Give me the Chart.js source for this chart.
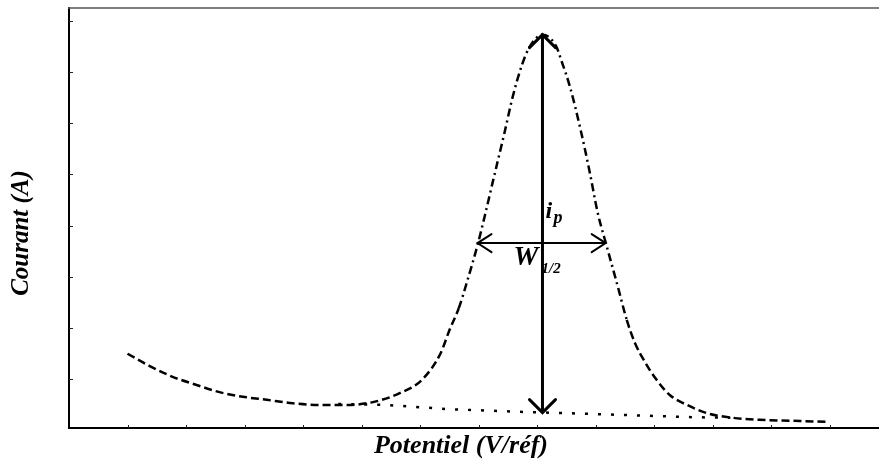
<!DOCTYPE html>
<html>
<head>
<meta charset="utf-8">
<script src="https://cdn.jsdelivr.net/npm/chart.js@4.4.0/dist/chart.umd.min.js"></script>
<style>
  html, body { margin: 0; padding: 0; background: #fff; }
  #wrap { width: 879px; height: 459px; position: relative; }
</style>
</head>
<body>
<div id="wrap"><canvas id="voltammo"></canvas></div>
<script>
// axis ticks (arbitrary units, no labels)
const xTicks = [1, 2, 3, 4, 5, 6, 7, 8, 9, 10, 11, 12, 13];
const yTicks = [1, 2, 3, 4, 5, 6, 7, 8];

// measured voltammogram
const potentiel = [1.00, 1.38, 1.77, 2.18, 2.57, 2.97, 3.38, 3.77, 4.28, 4.76, 5.21, 5.65, 6.03,
  6.35, 6.50, 6.66, 6.81, 6.98, 7.10, 7.24, 7.44, 7.58, 7.74, 7.87, 8.09, 8.32, 8.42, 8.56,
  8.73, 8.90, 9.03, 9.19, 9.38, 9.53, 9.67, 9.84, 10.04, 10.27, 10.56, 10.90, 11.34, 11.80,
  12.37, 12.95];
const courant = [1.50, 1.26, 1.05, 0.89, 0.75, 0.66, 0.60, 0.54, 0.50, 0.50, 0.56, 0.73, 0.99,
  1.51, 1.96, 2.39, 2.94, 3.62, 4.17, 4.85, 5.81, 6.51, 7.14, 7.49, 7.73, 7.51, 7.20, 6.71,
  5.93, 5.03, 4.27, 3.59, 2.80, 2.16, 1.71, 1.34, 0.99, 0.69, 0.50, 0.34, 0.25, 0.21,
  0.19, 0.17];

// capacitive baseline under the peak
const baseX = [4.60, 5.43, 6.45, 7.82, 8.50, 10.66, 11.30];
const baseY = [0.52, 0.50, 0.42, 0.36, 0.34, 0.26, 0.25];

// peak current and half-height width
const peakX = 8.09, peakY = 7.73, peakBase = 0.35;
const halfY = 3.66, halfLeft = 6.98, halfRight = 9.17;

// part of the curve drawn dash-dot
const peakFrom = 6.65, peakTo = 9.6;

const pts = (xs, ys) => xs.map((x, i) => ({ x: x, y: ys[i] }));
const serif = '"Liberation Serif", "Times New Roman", serif';

const annot = {
  id: 'annot',
  afterDatasetsDraw(chart) {
    const { ctx, chartArea: ca, scales: { x, y } } = chart;
    ctx.save();

    // top frame line
    ctx.strokeStyle = '#555';
    ctx.lineWidth = 1.5;
    ctx.beginPath();
    ctx.moveTo(ca.left - 1, ca.top);
    ctx.lineTo(ca.right, ca.top);
    ctx.stroke();

    // inner tick marks
    ctx.strokeStyle = '#222';
    ctx.lineWidth = 1;
    ctx.beginPath();
    yTicks.forEach(v => {
      const py = Math.round(y.getPixelForValue(v)) + 0.5;
      ctx.moveTo(ca.left, py);
      ctx.lineTo(ca.left + 4, py);
    });
    xTicks.forEach(v => {
      const px = Math.round(x.getPixelForValue(v)) + 0.5;
      ctx.moveTo(px, ca.bottom);
      ctx.lineTo(px, ca.bottom - 3);
    });
    ctx.stroke();

    // open arrow heads
    ctx.strokeStyle = '#000';
    ctx.lineWidth = 3;
    ctx.lineCap = 'round';
    const head = (tx, ty, ax, ay, bx, by) => {
      ctx.beginPath();
      ctx.moveTo(tx + ax, ty + ay);
      ctx.lineTo(tx, ty);
      ctx.lineTo(tx + bx, ty + by);
      ctx.stroke();
    };
    const vx = x.getPixelForValue(peakX);
    const vTop = y.getPixelForValue(peakY);
    const vBot = y.getPixelForValue(peakBase);
    head(vx, vTop, -13, 13, 13, 13);
    head(vx, vBot, -13, -13, 13, -13);
    ctx.lineWidth = 2;
    const hy = y.getPixelForValue(halfY);
    const hl = x.getPixelForValue(halfLeft);
    const hr = x.getPixelForValue(halfRight);
    head(hl, hy, 14, -9, 14, 9);
    head(hr, hy, -14, -9, -14, 9);

    // labels
    ctx.fillStyle = '#000';
    ctx.textBaseline = 'alphabetic';
    ctx.textAlign = 'left';
    ctx.font = 'bold italic 24px ' + serif;
    ctx.fillText('i', vx + 3, hy - 25);
    ctx.font = 'bold italic 18px ' + serif;
    ctx.fillText('p', vx + 11, hy - 20);
    ctx.textAlign = 'right';
    ctx.font = 'bold italic 28px ' + serif;
    ctx.fillText('W', vx - 4, hy + 22);
    ctx.textAlign = 'left';
    ctx.font = 'bold italic 15px ' + serif;
    ctx.fillText('1/2', vx - 1, hy + 30);

    // axis titles
    ctx.textAlign = 'center';
    ctx.textBaseline = 'middle';
    ctx.font = 'bold italic 26px ' + serif;
    ctx.fillText('Potentiel (V/réf)', 461, ca.bottom + 18);
    ctx.translate(22, 233);
    ctx.rotate(-Math.PI / 2);
    ctx.font = 'bold italic 25px ' + serif;
    ctx.fillText('Courant (A)', 0, 0);

    ctx.restore();
  }
};

new Chart('voltammo', {
  type: 'line',
  data: {
    datasets: [
      {
        data: pts(potentiel, courant),
        borderColor: '#000',
        borderWidth: 2.5,
        borderDash: [8, 4],
        pointRadius: 0,
        cubicInterpolationMode: 'monotone',
        segment: {
          borderDash: c => (c.p0.parsed.x >= peakFrom && c.p1.parsed.x <= peakTo) ? [8, 4, 2, 4] : [8, 4]
        }
      },
      {
        data: pts(baseX, baseY),
        borderColor: '#000',
        borderWidth: 2.5,
        borderDash: [3, 10],
        pointRadius: 0,
        tension: 0
      },
      {
        data: [{ x: peakX, y: peakBase }, { x: peakX, y: peakY }],
        borderColor: '#000',
        borderWidth: 3,
        pointRadius: 0
      },
      {
        data: [{ x: halfLeft, y: halfY }, { x: halfRight, y: halfY }],
        borderColor: '#000',
        borderWidth: 2,
        pointRadius: 0
      }
    ]
  },
  options: {
    responsive: true,
    maintainAspectRatio: false,
    animation: false,
    layout: { padding: { left: 69, top: 8, right: 0, bottom: 31 } },
    plugins: { legend: { display: false }, tooltip: { enabled: false } },
    scales: {
      x: {
        type: 'linear', min: 0, max: 13.84,
        ticks: { display: false },
        grid: { display: false, drawTicks: false },
        border: { display: true, color: '#000', width: 2 }
      },
      y: {
        type: 'linear', min: 0.05, max: 8.25,
        ticks: { display: false },
        grid: { display: false, drawTicks: false },
        border: { display: true, color: '#000', width: 2 }
      }
    }
  },
  plugins: [annot]
});
</script>
</body>
</html>
